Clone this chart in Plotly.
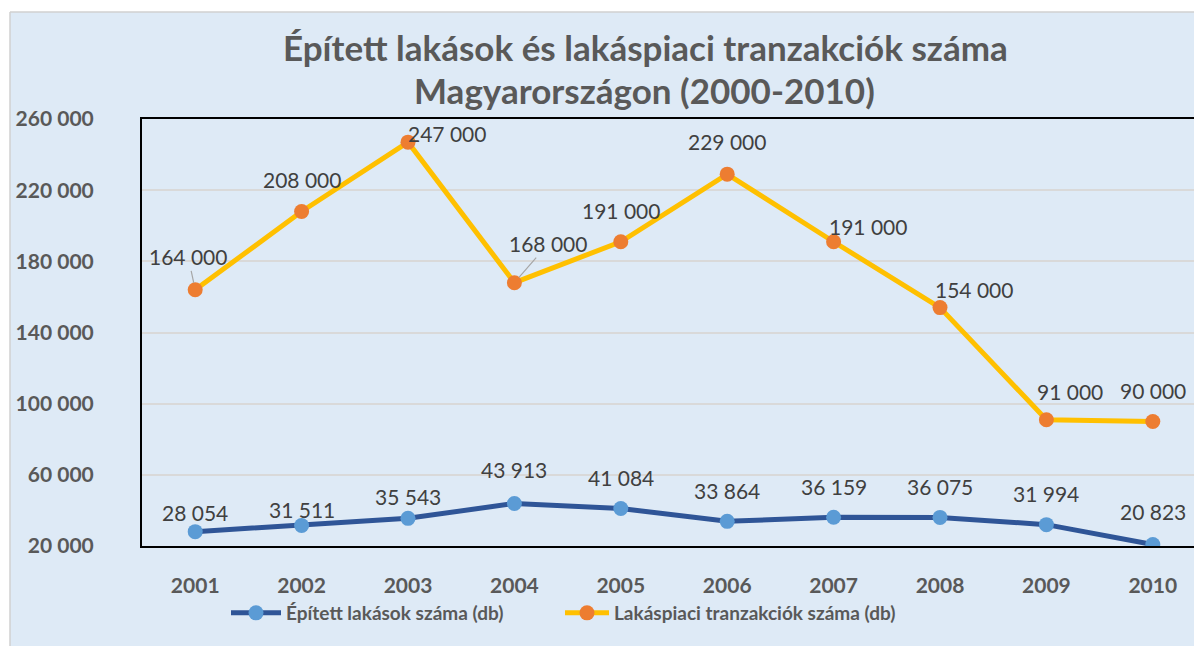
import plotly.graph_objects as go

years = ["2001", "2002", "2003", "2004", "2005", "2006", "2007", "2008", "2009", "2010"]
built = [28054, 31511, 35543, 43913, 41084, 33864, 36159, 36075, 31994, 20823]
transactions = [164000, 208000, 247000, 168000, 191000, 229000, 191000, 154000, 91000, 90000]
name_built = "Épített lakások száma (db)"
name_trans = "Lakáspiaci tranzakciók száma (db)"
title_lines = ["Épített lakások és lakáspiaci tranzakciók száma", "Magyarországon (2000-2010)"]
ytick_vals = [20000, 60000, 100000, 140000, 180000, 220000, 260000]

W, H = 1202, 646
OFF = 8  # page body margin
L, T = 142 - OFF, 119 - OFF
PB = 546 - OFF  # plot bottom in figure px
R = 0
B = H - PB
PW, PH = W - L - R, PB - T
FONT = "Lato"
BG = "#DEEAF6"

def fmt(v):
    return f"{v:,}".replace(",", " ")

def px_x(px):
    return (px - OFF - L) / PW

def px_y(py):
    return (PB - (py - OFF)) / PH

fig = go.Figure()
fig.add_trace(go.Scatter(
    x=years, y=built, name=name_built, mode="lines+markers",
    line=dict(color="#2F5597", width=5),
    marker=dict(color="#5B9BD5", size=15),
    legend="legend",
))
fig.add_trace(go.Scatter(
    x=years, y=transactions, name=name_trans, mode="lines+markers",
    line=dict(color="#FFC000", width=5),
    marker=dict(color="#ED7D31", size=15),
    legend="legend2",
))

label_font = dict(family=FONT, size=21, color="#404040")
# label offsets in pixels (x right, y up)
trans_off = [(-7, 33), (0, 32), (39, 9), (34, 39), (0, 31), (0, 33), (34, 15), (34, 18), (24, 28), (0, 31)]
trans_leader = [True, False, False, True, False, False, False, False, False, False]
built_off = [(0, 19), (0, 16), (0, 22), (0, 34), (0, 31), (0, 31), (0, 31), (0, 31), (0, 31), (0, 33)]

annotations = []
for i, v in enumerate(transactions):
    dx, dy = trans_off[i]
    if trans_leader[i]:
        annotations.append(dict(x=i, y=v, text=fmt(v), showarrow=True, arrowhead=0,
                                arrowcolor="#A6A6A6", arrowwidth=1.2, standoff=7,
                                ax=dx, ay=-dy, font=label_font))
    else:
        annotations.append(dict(x=i, y=v, text=fmt(v), showarrow=False,
                                xshift=dx, yshift=dy, font=label_font))
for i, v in enumerate(built):
    dx, dy = built_off[i]
    annotations.append(dict(x=i, y=v, text=fmt(v), showarrow=False,
                            xshift=dx, yshift=dy, font=label_font))

title_font = dict(family=FONT, size=35, color="#595959", weight=700)
annotations.append(dict(xref="paper", yref="paper", x=px_x(645), y=px_y(47), text=title_lines[0],
                        showarrow=False, xanchor="center", yanchor="middle", font=title_font))
annotations.append(dict(xref="paper", yref="paper", x=px_x(644), y=px_y(90), text=title_lines[1],
                        showarrow=False, xanchor="center", yanchor="middle", font=title_font))

shapes = [
    dict(type="rect", xref="paper", yref="paper", x0=px_x(-20), x1=px_x(10), y0=px_y(H + 20), y1=px_y(-20),
         fillcolor="white", line=dict(width=0), layer="above"),
    dict(type="rect", xref="paper", yref="paper", x0=px_x(-20), x1=px_x(W + 20), y0=px_y(12), y1=px_y(-20),
         fillcolor="white", line=dict(width=0), layer="above"),
    dict(type="line", xref="paper", yref="paper", x0=px_x(10), x1=px_x(10), y0=px_y(H + 20), y1=px_y(12),
         line=dict(color="#D0D0D0", width=1.5), layer="above"),
    dict(type="line", xref="paper", yref="paper", x0=px_x(10), x1=px_x(W + 20), y0=px_y(12), y1=px_y(12),
         line=dict(color="#D0D0D0", width=1.5), layer="above"),
]

legend_font = dict(family=FONT, size=19, color="#595959", weight=700)
fig.update_layout(
    width=W, height=H,
    margin=dict(l=L, r=R, t=T, b=B),
    paper_bgcolor=BG, plot_bgcolor=BG,
    font=dict(family=FONT, color="#595959"),
    showlegend=True,
    legend=dict(orientation="h", x=px_x(226), y=px_y(613), xanchor="left", yanchor="middle",
                font=legend_font, bgcolor="rgba(0,0,0,0)", itemwidth=50),
    legend2=dict(orientation="h", x=px_x(560), y=px_y(613), xanchor="left", yanchor="middle",
                 font=legend_font, bgcolor="rgba(0,0,0,0)", itemwidth=44),
    xaxis=dict(type="category", range=[-0.5, -0.5 + PW / 106.4], showgrid=False,
               showline=True, linecolor="black", linewidth=2, mirror=True,
               ticks="", tickfont=dict(family=FONT, size=21, color="#595959", weight=700),
               ticklabelstandoff=20, fixedrange=True),
    yaxis=dict(range=[20000, 260000], tickvals=ytick_vals, ticktext=[fmt(v) for v in ytick_vals],
               showgrid=True, gridcolor="#D9D9D9", gridwidth=1.5, zeroline=False,
               showline=True, linecolor="black", linewidth=2,
               ticks="", tickfont=dict(family=FONT, size=21, color="#595959", weight=700),
               ticklabelstandoff=42),
    annotations=annotations,
    shapes=shapes,
)

fig.write_html("out.html")
